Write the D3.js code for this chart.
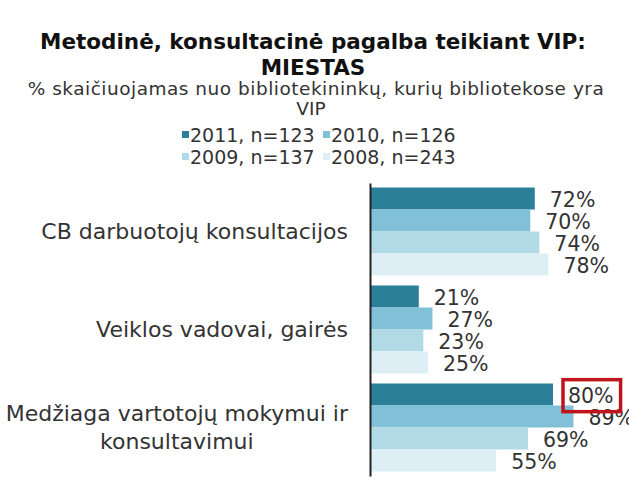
<!DOCTYPE html>
<html>
<head>
<meta charset="utf-8">
<script src="https://cdn.jsdelivr.net/npm/d3@7"></script>
<style>
  body { margin: 0; background: #fff; }
  svg { display: block; font-family: "DejaVu Sans", Verdana, sans-serif; }
</style>
</head>
<body>
<svg id="chart" width="629" height="484"></svg>
<script>
// data
const categories = [
  ['CB darbuotojų konsultacijos'],
  ['Veiklos vadovai, gairės'],
  ['Medžiaga vartotojų mokymui ir', 'konsultavimui']
];
const seriesNames = ['2011, n=123', '2010, n=126', '2009, n=137', '2008, n=243'];
const seriesColors = ['#2b7f98', '#80c1d7', '#b2dae6', '#ddeff5'];
const v2011 = [72, 21, 80];
const v2010 = [70, 27, 89];
const v2009 = [74, 23, 69];
const v2008 = [78, 25, 55];
const highlighted = { category: 2, series: 0 }; // red box around 80%

const seriesValues = [v2011, v2010, v2009, v2008];
const rows = [];
categories.forEach((c, ci) => {
  seriesNames.forEach((s, si) => rows.push({ ci, si, value: seriesValues[si][ci] }));
});

const svg = d3.select('#chart');

// titles
svg.append('text')
  .attr('x', 313).attr('y', 49)
  .attr('text-anchor', 'middle')
  .attr('font-weight', 'bold').attr('font-size', 21.5).attr('fill', '#111')
  .text('Metodinė, konsultacinė pagalba teikiant VIP:');
svg.append('text')
  .attr('x', 313).attr('y', 75)
  .attr('text-anchor', 'middle')
  .attr('font-weight', 'bold').attr('font-size', 21.5).attr('fill', '#111')
  .text('MIESTAS');
svg.append('text')
  .attr('x', 316).attr('y', 95)
  .attr('text-anchor', 'middle')
  .attr('font-size', 18.5).attr('letter-spacing', 0.5).attr('fill', '#333')
  .text('% skaičiuojamas nuo bibliotekininkų, kurių bibliotekose yra');
svg.append('text')
  .attr('x', 311).attr('y', 115)
  .attr('text-anchor', 'middle')
  .attr('font-size', 18.5).attr('fill', '#333')
  .text('VIP');

// legend, two per row
const legend = svg.append('g');
const legendItems = legend.selectAll('g')
  .data(seriesNames)
  .join('g')
  .attr('transform', (d, i) => `translate(${i % 2 ? 323 : 182},${i < 2 ? 135 : 157})`);
legendItems.append('rect')
  .attr('x', 0).attr('y', -4)
  .attr('width', 7).attr('height', 7)
  .attr('fill', (d, i) => seriesColors[i]);
legendItems.append('text')
  .attr('x', 8).attr('y', 0)
  .attr('dy', '0.35em')
  .attr('font-size', 19).attr('fill', '#333')
  .text(d => d);

// scales
const x = d3.scaleLinear()
  .domain([0, 100])
  .range([371, 598.5]);
const y = d3.scaleBand()
  .domain(d3.range(categories.length))
  .range([183, 476])
  .paddingInner(0.102)
  .paddingOuter(0.046);
const ySub = d3.scaleBand()
  .domain(d3.range(seriesNames.length))
  .range([0, y.bandwidth()]);

// bars
svg.append('g')
  .selectAll('rect')
  .data(rows)
  .join('rect')
  .attr('x', x(0))
  .attr('y', d => y(d.ci) + ySub(d.si))
  .attr('width', d => x(d.value) - x(0))
  .attr('height', ySub.bandwidth())
  .attr('fill', d => seriesColors[d.si]);

// value labels
const labels = svg.append('g')
  .selectAll('text')
  .data(rows)
  .join('text')
  .attr('x', d => x(d.value) + 15)
  .attr('y', d => y(d.ci) + ySub(d.si) + ySub.bandwidth() / 2 + 1)
  .attr('dy', '0.35em')
  .attr('font-size', 20.5).attr('fill', '#333')
  .text(d => d.value + '%');

// highlight box
labels.filter(d => d.ci === highlighted.category && d.si === highlighted.series)
  .each(function () {
    const b = this.getBBox();
    svg.append('rect')
      .attr('x', b.x - 5).attr('y', b.y - 4)
      .attr('width', b.width + 12).attr('height', b.height + 8)
      .attr('fill', 'none')
      .attr('stroke', '#c0141c').attr('stroke-width', 3.5);
  });

// axis line
svg.append('g')
  .attr('transform', `translate(${x(0) - 1},0)`)
  .call(d3.axisLeft(y).tickSize(0).tickFormat(''))
  .call(g => g.select('.domain').attr('stroke', '#222').attr('stroke-width', 2));

// category labels (multi-line centred, block right-aligned)
const catLabels = svg.append('g')
  .selectAll('text')
  .data(categories)
  .join('text')
  .attr('font-size', 22).attr('fill', '#333')
  .attr('text-anchor', 'middle');
catLabels.each(function (lines, ci) {
  const t = d3.select(this);
  const lineH = 28;
  const cy = y(ci) + y.bandwidth() / 2;
  lines.forEach((line, li) => {
    t.append('tspan')
      .attr('y', cy + (li - (lines.length - 1) / 2) * lineH)
      .attr('dy', '0.35em')
      .text(line);
  });
  const w = d3.max(t.selectAll('tspan').nodes(), n => n.getComputedTextLength());
  t.selectAll('tspan').attr('x', 348 - w / 2);
});
</script>
</body>
</html>
